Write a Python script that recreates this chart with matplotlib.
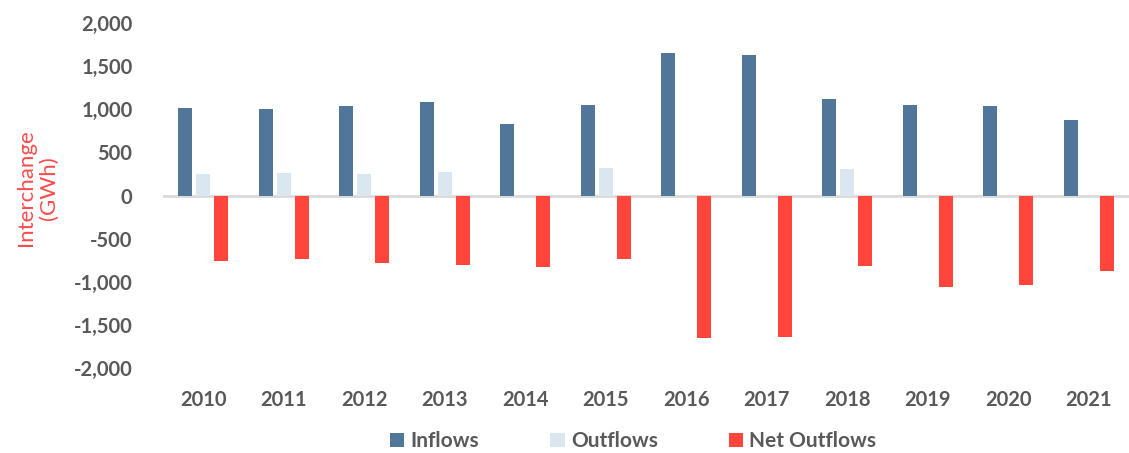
import numpy as np
import matplotlib
matplotlib.use("Agg")
import matplotlib.pyplot as plt
from matplotlib.ticker import FuncFormatter

plt.rcParams['font.family'] = ['Lato', 'DejaVu Sans']

years = ["2010", "2011", "2012", "2013", "2014", "2015",
         "2016", "2017", "2018", "2019", "2020", "2021"]
inflows = [1010, 1005, 1040, 1085, 825, 1055, 1655, 1635, 1125, 1055, 1040, 880]
outflows = [250, 265, 255, 275, 0, 320, 0, 0, 310, 0, 0, 0]
net_outflows = [-760, -740, -785, -810, -825, -735, -1655, -1635, -815, -1055, -1040, -880]

c_in = "#50779A"
c_out = "#DAE6F0"
c_net = "#FF453C"
grey = "#595959"

fig = plt.figure(figsize=(11.29, 4.53), dpi=100)
ax = fig.add_axes([0.1444, 0.1876, 0.8556, 0.7614])

x = np.arange(len(years))
w = 0.175
off = 0.222
ax.bar(x - off, inflows, w, color=c_in, label="Inflows")
ax.bar(x, outflows, w, color=c_out, label="Outflows")
ax.bar(x + off, net_outflows, w, color=c_net, label="Net Outflows")

ax.axhline(0, color="#D9D9D9", lw=2, zorder=0.5)

ax.set_xlim(-0.5, len(years) - 0.5)
ax.set_ylim(-2000, 2000)
ax.set_yticks(np.arange(-2000, 2001, 500))
ax.yaxis.set_major_formatter(FuncFormatter(lambda v, p: f"{int(v):,}"))
ax.set_xticks(x)
ax.set_xticklabels(years)

for s in ax.spines.values():
    s.set_visible(False)
ax.tick_params(axis="both", length=0, colors=grey, labelsize=14.5)
ax.tick_params(axis="y", pad=22)
ax.tick_params(axis="x", pad=16)
for lab in ax.get_xticklabels() + ax.get_yticklabels():
    lab.set_fontweight("bold")

fig.text(0.033, 0.585, "Interchange\n(GWh)", rotation=90, color="#FF4B4B",
         fontsize=16, ha="center", va="center", linespacing=1.15)

fig.legend(loc="center", bbox_to_anchor=(0.5607, 0.026), ncol=3, frameon=False,
           handlelength=0.7, handleheight=0.7, handletextpad=0.3,
           columnspacing=3.4, prop={"size": 15, "weight": "bold"},
           labelcolor=grey)

fig.savefig("out.png", dpi=100)
